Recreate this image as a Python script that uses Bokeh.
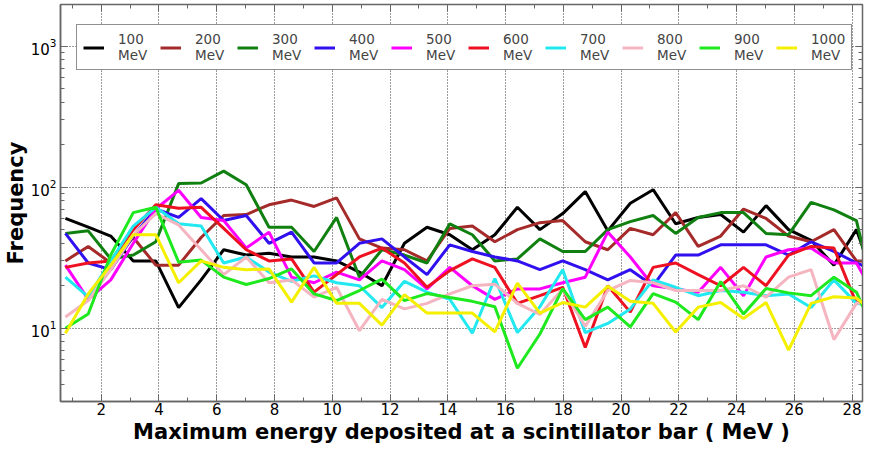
import math
from bokeh.plotting import figure
from bokeh.models import (Range1d, SingleIntervalTicker, LinearAxis, LogAxis,
                          LogTicker, Legend, LegendItem, CustomJSTickFormatter)
from bokeh.embed import file_html
from bokeh.resources import INLINE

# ---------------- data ----------------
energy_x = [0.76, 1.55, 2.33, 3.11, 3.89, 4.68, 5.46, 6.24, 7.02, 7.81,
            8.59, 9.37, 10.15, 10.94, 11.72, 12.50, 13.28, 14.07, 14.85, 15.63,
            16.41, 17.19, 17.98, 18.76, 19.54, 20.32, 21.11, 21.89, 22.67, 23.45,
            24.24, 25.02, 25.80, 26.58, 27.37, 28.15, 28.93]

beam_energies = ["100", "200", "300", "400", "500", "600", "700", "800", "900", "1000"]
energy_unit = "MeV"

freq_100 = [60, 52, 45, 30, 30, 14, 22, 36, 33, 34, 32, 32, 30, 25, 20, 40, 52, 46, 36, 46,
            72, 50, 65, 93, 49, 77, 96, 55, 61, 64, 48, 74, 50, 42, 28, 50, 18]
freq_200 = [30, 38, 29, 44, 28, 28, 44, 63, 64, 75, 81, 73, 84, 43, 37, 36, 30, 51, 53, 41,
            50, 56, 58, 41, 36, 51, 46, 66, 38, 45, 70, 60, 45, 41, 50, 30, 30]
freq_300 = [47, 49, 31, 33, 41, 106, 107, 130, 104, 52, 52, 35, 61, 23, 36, 33, 29, 55, 46, 30,
            31, 43, 35, 35, 50, 57, 63, 47, 61, 66, 66, 47, 46, 78, 69, 58, 12]
freq_400 = [47, 29, 26, 45, 70, 61, 83, 58, 63, 40, 48, 29, 29, 40, 43, 32, 24, 39, 35, 32,
            30, 26, 30, 26, 22, 26, 20, 33, 33, 39, 39, 39, 33, 41, 35, 29, 25]
freq_500 = [28, 16, 22, 40, 70, 95, 61, 58, 37, 48, 23, 21, 25, 22, 30, 26, 19, 27, 20, 16,
            19, 19, 21, 23, 48, 32, 20, 19, 18, 27, 17, 32, 36, 37, 29, 29, 15]
freq_600 = [27, 29, 30, 50, 75, 71, 72, 51, 36, 30, 31, 18, 24, 32, 37, 29, 19.5, 25.6, 31, 27,
            15, 17, 19.5, 7.3, 20, 13, 27, 29, 24, 20, 27, 20, 33, 38, 37, 15, 17]
freq_700 = [23, 16.7, 30, 53, 72, 55, 53, 29, 32, 25, 21.5, 23.5, 21, 20, 14, 21.5, 18, 16, 9.2, 22.5,
            9.3, 14.2, 26, 9.3, 10.8, 13.7, 22, 19.5, 17, 18.5, 18, 17, 17.5, 14, 22, 15, 14]
freq_800 = [12, 15.7, 26, 46, 65, 54, 36, 24, 32, 21, 22, 16.6, 19.5, 9.6, 16, 13.7, 15, 17.5, 20, 20.5,
            15, 12.5, 19, 10.3, 18.5, 21.8, 21, 18.5, 18.5, 18.5, 20, 16.6, 23, 26, 8.3, 15, 15]
freq_900 = [10, 12.6, 33, 66, 72, 29.4, 30.4, 23, 20.4, 22.5, 26.3, 17.5, 15.7, 18.5, 22.3, 15.7, 17.6, 16.5, 15.5, 14.2,
            5.2, 9.1, 19.1, 11.5, 14.1, 10.2, 17.6, 15.3, 11.5, 21.4, 12.6, 19.1, 17.8, 17, 23, 18, 8]
freq_1000 = [9.2, 17.5, 28, 46, 46, 21, 30, 27, 26, 26.3, 15.3, 27, 15, 15, 10.5, 17.3, 12.8, 12.8, 12.8, 9.4,
             20.9, 12.8, 15.2, 14.1, 19.8, 15.5, 15, 9.4, 14.1, 15.2, 11.7, 15.2, 7, 15, 16.7, 16.4, 12]

series = [freq_100, freq_200, freq_300, freq_400, freq_500,
          freq_600, freq_700, freq_800, freq_900, freq_1000]
colors = ["#000000", "#a52a2a", "#108010", "#3010ee", "#ff00ff",
          "#ee1122", "#22e8f0", "#f5b5c0", "#1ee81e", "#f4f000"]

# ---------------- figure ----------------
W, H = 869, 451
p = figure(width=W, height=H, y_axis_type="log",
           x_range=Range1d(0.59, 28.36), y_range=Range1d(3.02, 1975),
           output_backend="svg", toolbar_location=None,
           min_border_left=60, min_border_right=7, min_border_top=4, min_border_bottom=50,
           background_fill_color="white", border_fill_color="white")
p.outline_line_color = "#666666"
p.outline_line_width = 1.5

GRAY = "#666666"
TICK_FONT = "DejaVu Sans"

xa = p.xaxis[0]
xa.ticker = SingleIntervalTicker(interval=2, num_minor_ticks=2)
ya = p.yaxis[0]
ya.ticker = LogTicker(num_minor_ticks=10)
for ax in (xa, ya):
    ax.axis_line_color = GRAY
    ax.axis_line_width = 1.5
    ax.major_tick_line_color = GRAY
    ax.minor_tick_line_color = GRAY
    ax.major_tick_in = 7
    ax.major_tick_out = 0
    ax.minor_tick_in = 4
    ax.minor_tick_out = 0
    ax.major_label_text_font = TICK_FONT
    ax.major_label_text_font_size = "15px"
    ax.major_label_text_color = "black"
    ax.axis_label_text_font = "DejaVu Sans"
    ax.axis_label_text_font_style = "bold"
    ax.axis_label_text_color = "black"
xa.major_label_standoff = 1
ya.major_label_standoff = 4
xa.axis_label = "Maximum energy deposited at a scintillator bar ( MeV )"
xa.axis_label_text_font_size = "21px"
xa.axis_label_standoff = 2
ya.axis_label = "Frequency"
ya.axis_label_text_font_size = "21px"
ya.axis_label_standoff = 0

blank = CustomJSTickFormatter(code="return ''")
ra = LogAxis(ticker=LogTicker(num_minor_ticks=10), formatter=blank,
             major_label_text_font_size="1px", major_label_standoff=0,
             major_tick_in=7, major_tick_out=0, minor_tick_in=4, minor_tick_out=0,
             axis_line_color=GRAY, major_tick_line_color=GRAY, minor_tick_line_color=GRAY)
p.add_layout(ra, "right")
ta = LinearAxis(ticker=SingleIntervalTicker(interval=2, num_minor_ticks=2), formatter=blank,
                major_label_text_font_size="1px", major_label_standoff=0,
                major_tick_in=7, major_tick_out=0, minor_tick_in=4, minor_tick_out=0,
                axis_line_color=GRAY, major_tick_line_color=GRAY, minor_tick_line_color=GRAY)
p.add_layout(ta, "above")

for g in (p.xgrid[0], p.ygrid[0]):
    g.grid_line_color = "#222222"
    g.grid_line_dash = "1 2"
    g.grid_line_width = 1
    g.grid_line_alpha = 0.9

renderers = []
for vals, c in zip(series, colors):
    r = p.line(energy_x, vals, line_color=c, line_width=3)
    renderers.append(r)

# ---------------- legend ----------------
legend = Legend(items=[LegendItem(label=f"{e}\n{energy_unit}", renderers=[r])
                       for e, r in zip(beam_energies, renderers)],
                orientation="horizontal", location=(16, 331),
                padding=6, margin=0, spacing=10,
                glyph_width=21, glyph_height=27, label_width=32, label_height=27,
                label_standoff=14, label_text_font="DejaVu Sans",
                label_text_font_size="13.5px", label_text_line_height=1.0,
                border_line_color="#222222", border_line_width=1,
                background_fill_color="white", background_fill_alpha=1)
p.add_layout(legend)

open("out.html", "w").write(file_html(p, INLINE))
